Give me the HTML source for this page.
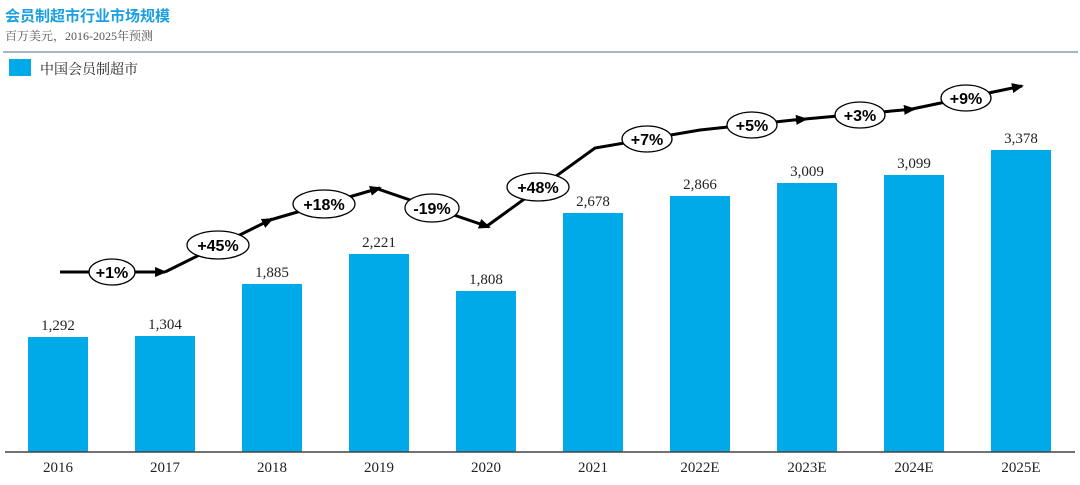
<!DOCTYPE html>
<html><head><meta charset="utf-8"><style>
body{margin:0;background:#fff;width:1080px;height:480px;overflow:hidden;font-family:"Liberation Serif","Noto Serif CJK SC",serif}
</style></head><body>
<svg width="1080" height="480" xmlns="http://www.w3.org/2000/svg">
<defs><marker id="a" markerWidth="12" markerHeight="10" refX="10" refY="5" orient="auto" markerUnits="userSpaceOnUse"><path d="M0,0 L12,5 L0,10 z" fill="#000"/></marker></defs>
<text x="5" y="21" font-family="Liberation Sans,Noto Sans CJK SC,sans-serif" font-weight="bold" font-size="15" fill="#1aa0e0">会员制超市行业市场规模</text>
<text x="5" y="40" font-size="12" fill="#555" font-family="Liberation Serif,Noto Serif CJK SC,serif">百万美元，2016-2025年预测</text>
<line x1="3" y1="52" x2="1078" y2="52" stroke="#8a9bb8" stroke-width="1.5"/>
<rect x="9" y="59" width="22" height="17" fill="#00a9e8"/>
<text x="40" y="74" font-size="14" fill="#222" font-family="Liberation Serif,Noto Serif CJK SC,serif">中国会员制超市</text>
<g fill="#00a9e8">
<rect x="28" y="337" width="60" height="115"/>
<rect x="135" y="336" width="60" height="116"/>
<rect x="242" y="284" width="60" height="168"/>
<rect x="349" y="254" width="60" height="198"/>
<rect x="456" y="291" width="60" height="161"/>
<rect x="563" y="213" width="60" height="239"/>
<rect x="670" y="196" width="60" height="256"/>
<rect x="777" y="183" width="60" height="269"/>
<rect x="884" y="175" width="60" height="277"/>
<rect x="991" y="150" width="60" height="302"/>
</g>
<line x1="5" y1="452" x2="1075" y2="452" stroke="#444" stroke-width="1.5"/>
<g font-size="15" fill="#222" text-anchor="middle">
<text x="58" y="330">1,292</text><text x="165" y="329">1,304</text><text x="272" y="277">1,885</text>
<text x="379" y="247">2,221</text><text x="486" y="284">1,808</text><text x="593" y="206">2,678</text>
<text x="700" y="189">2,866</text><text x="807" y="176">3,009</text><text x="914" y="168">3,099</text><text x="1021" y="143">3,378</text>
</g>
<g font-size="15" fill="#222" text-anchor="middle">
<text x="58" y="472">2016</text><text x="165" y="472">2017</text><text x="272" y="472">2018</text><text x="379" y="472">2019</text><text x="486" y="472">2020</text>
<text x="593" y="472">2021</text><text x="700" y="472">2022E</text><text x="807" y="472">2023E</text><text x="914" y="472">2024E</text><text x="1021" y="472">2025E</text>
</g>
<g stroke="#000" stroke-width="3" fill="none">
<line x1="60" y1="272" x2="165" y2="272" marker-end="url(#a)"/>
<line x1="165" y1="272" x2="272" y2="219" marker-end="url(#a)"/>
<line x1="270" y1="220" x2="380" y2="188" marker-end="url(#a)"/>
<line x1="378" y1="189" x2="489" y2="227" marker-end="url(#a)"/>
<polyline points="487,226 595,148 700,130 803,119"/>
<line x1="795" y1="120" x2="806" y2="119" marker-end="url(#a)"/>
<line x1="805" y1="119" x2="914" y2="109" marker-end="url(#a)"/>
<line x1="912" y1="109" x2="1022" y2="86" marker-end="url(#a)"/>
</g>
<g stroke="#000" stroke-width="1.3" fill="#fff">
<ellipse cx="112" cy="272" rx="23" ry="13"/><ellipse cx="218" cy="245" rx="31" ry="14"/>
<ellipse cx="324" cy="204" rx="31" ry="14"/><ellipse cx="432" cy="208" rx="27" ry="14"/>
<ellipse cx="538" cy="187" rx="31" ry="14"/><ellipse cx="647" cy="139" rx="25" ry="13"/>
<ellipse cx="752" cy="125" rx="25" ry="13"/><ellipse cx="860" cy="115" rx="25" ry="13"/>
<ellipse cx="966" cy="98" rx="25" ry="13"/>
</g>
<g font-family="Liberation Sans,sans-serif" font-size="16" font-weight="bold" fill="#000" text-anchor="middle">
<text x="112" y="278">+1%</text><text x="218" y="251">+45%</text><text x="324" y="210">+18%</text>
<text x="432" y="214">-19%</text><text x="538" y="193">+48%</text><text x="647" y="145">+7%</text>
<text x="752" y="131">+5%</text><text x="860" y="121">+3%</text><text x="966" y="104">+9%</text>
</g>
</svg>
</body></html>
